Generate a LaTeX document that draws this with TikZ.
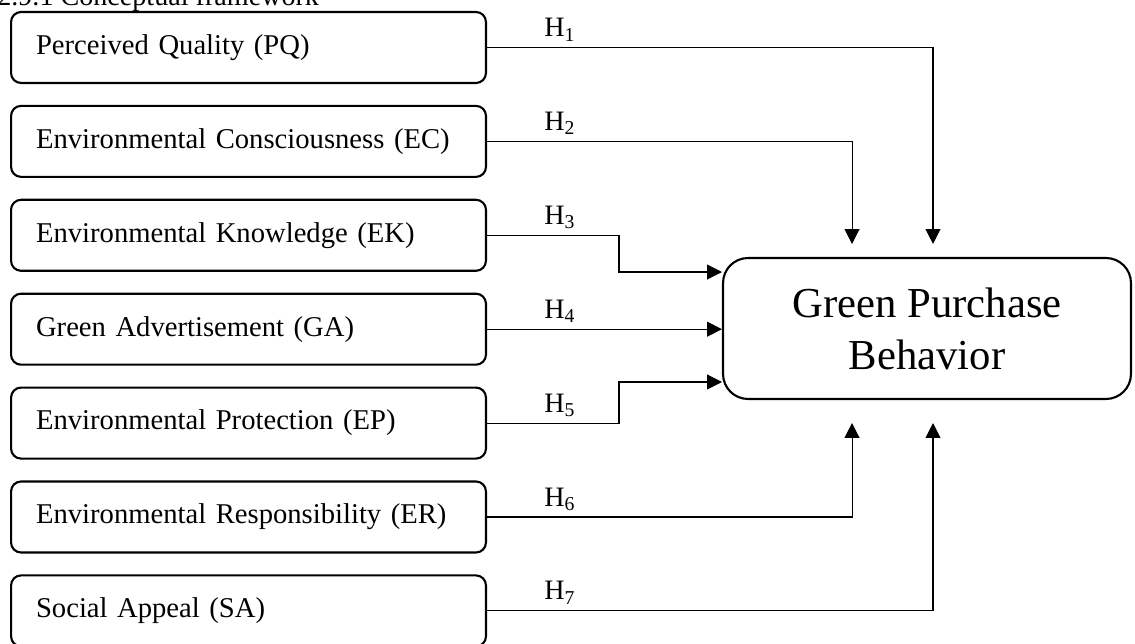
\documentclass[tikz,border=0pt]{standalone}
\usepackage{fontspec}
\setmainfont{Liberation Serif}
\usetikzlibrary{arrows.meta,positioning,calc}

\begin{document}
\begin{tikzpicture}[x=0.02cm,y=-0.02cm,
  var/.style={draw,rounded corners=0.2cm,line width=1.2pt,text width=8.5cm,align=left,inner xsep=0.5cm,minimum height=1.42cm,anchor=west,font=\fontsize{16.3}{19}\selectfont},
  dv/.style={draw,rounded corners=0.5cm,line width=1.2pt,minimum width=8.16cm,minimum height=2.82cm,align=center,font=\fontsize{24.3}{29.6}\selectfont},
  hyp/.style={anchor=base west,inner sep=0pt,font=\fontsize{16}{19}\selectfont},
  arr/.style={-{Triangle[length=8.5pt,width=8.5pt]},line width=0.6pt}]
  \useasboundingbox (0,0) rectangle (1135,644);
  \node[hyp] (title) at (-3,6) {2.9.1 Conceptual framework};

  \node[var] (pq) at (10,47.5) {Perceived Quality (PQ)};
  \node[var] (ec) at (10,141.4) {Environmental Consciousness (EC)};
  \node[var] (ek) at (10,235.3) {Environmental Knowledge (EK)};
  \node[var] (ga) at (10,329.2) {Green Advertisement (GA)};
  \node[var] (ep) at (10,423.1) {Environmental Protection (EP)};
  \node[var] (er) at (10,517) {Environmental Responsibility (ER)};
  \node[var] (sa) at (10,610.9) {Social Appeal (SA)};

  \node[dv] (gpb) at (927,328.5) {Green Purchase\\Behavior};

  \draw[arr,shorten >=0.26cm] (pq.east) -| ([xshift=0.12cm]gpb.north);
  \draw[arr,shorten >=0.26cm] (ec.east) -| ([xshift=-1.5cm]gpb.north);
  \draw[arr] (ek.east) -- ++(132,0) |- ([yshift=1.13cm]gpb.west);
  \draw[arr] (ga.east) -- (ga.east -| gpb.west);
  \draw[arr] (ep.east) -- ++(132,0) |- ([yshift=-1.07cm]gpb.west);
  \draw[arr,shorten >=0.46cm] (er.east) -| ([xshift=-1.5cm]gpb.south);
  \draw[arr,shorten >=0.46cm] (sa.east) -| ([xshift=0.12cm]gpb.south);

  \node[hyp] (h1) at ([xshift=1.14cm,yshift=0.22cm]pq.east) {H\textsubscript{1}};
  \node[hyp] (h2) at ([xshift=1.14cm,yshift=0.22cm]ec.east) {H\textsubscript{2}};
  \node[hyp] (h3) at ([xshift=1.14cm,yshift=0.22cm]ek.east) {H\textsubscript{3}};
  \node[hyp] (h4) at ([xshift=1.14cm,yshift=0.22cm]ga.east) {H\textsubscript{4}};
  \node[hyp] (h5) at ([xshift=1.14cm,yshift=0.22cm]ep.east) {H\textsubscript{5}};
  \node[hyp] (h6) at ([xshift=1.14cm,yshift=0.22cm]er.east) {H\textsubscript{6}};
  \node[hyp] (h7) at ([xshift=1.14cm,yshift=0.22cm]sa.east) {H\textsubscript{7}};
\end{tikzpicture}
\end{document}
